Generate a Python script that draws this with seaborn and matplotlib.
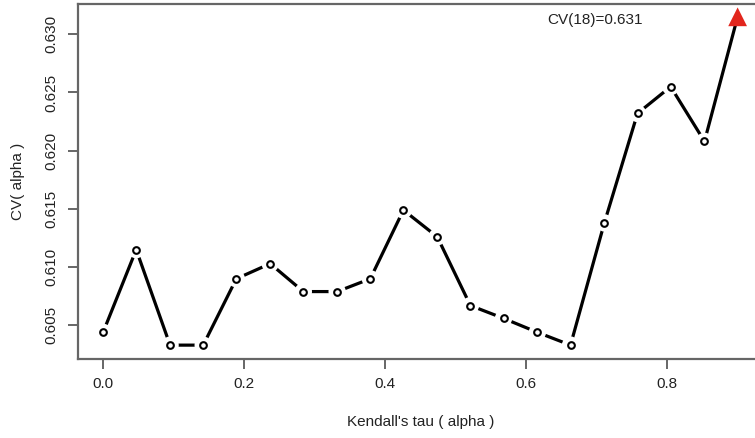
import matplotlib
matplotlib.use("Agg")
import matplotlib.pyplot as plt
import seaborn as sns
import numpy as np

# Data
tau = [0.0, 0.047, 0.095, 0.142, 0.189, 0.237, 0.284, 0.332, 0.379, 0.426,
       0.474, 0.521, 0.568, 0.616, 0.663, 0.711, 0.758, 0.805, 0.853, 0.9]
cv = [0.6044, 0.6115, 0.6033, 0.6033, 0.6090, 0.6103, 0.6079, 0.6079, 0.6090, 0.6149,
      0.6126, 0.6067, 0.6056, 0.6044, 0.6033, 0.6138, 0.6232, 0.6255, 0.6208, 0.6315]
x_ticks = [0.0, 0.2, 0.4, 0.6, 0.8]
x_tick_labels = ["0.0", "0.2", "0.4", "0.6", "0.8"]
y_ticks = [0.605, 0.610, 0.615, 0.620, 0.625, 0.630]
y_tick_labels = ["0.605", "0.610", "0.615", "0.620", "0.625", "0.630"]
annot_text = "CV(18)=0.631"
x_label = "Kendall's tau ( alpha )"
y_label = "CV( alpha )"

sns.set_style("white")
plt.rcParams['font.family'] = ['Liberation Sans', 'DejaVu Sans']

W, H = 755, 438
fig = plt.figure(figsize=(W / 100, H / 100), dpi=100)
left, right, bottom, top = 77.7, 763.0, 359.1, 4.0
ax = fig.add_axes([left / W, 1 - bottom / H, (right - left) / W, (bottom - top) / H])

sns.lineplot(x=tau, y=cv, color="black", linewidth=2.3, sort=False,
             estimator=None, ax=ax, zorder=2)
sns.scatterplot(x=tau, y=cv, s=12.5 ** 2, color="white", edgecolor="none",
                ax=ax, zorder=3)
sns.scatterplot(x=tau[:-1], y=cv[:-1], s=4.8 ** 2, facecolor="white",
                edgecolor="black", linewidth=1.5, ax=ax, zorder=4)
sns.scatterplot(x=[tau[-1]], y=[cv[-1]], marker="^", s=13.5 ** 2,
                color="#e2261d", edgecolor="none", ax=ax, zorder=5)

ax.text(0.698, 0.6312, annot_text, ha="center", va="center",
        fontsize=11, color="#222222")

ax.set_xlim(-0.036, 0.936)
ax.set_ylim(0.6021, 0.6326)
ax.set_xticks(x_ticks)
ax.set_xticklabels(x_tick_labels)
ax.set_yticks(y_ticks)
ax.set_yticklabels(y_tick_labels, rotation=90, va="center")

for sp in ax.spines.values():
    sp.set_visible(True)
    sp.set_color("#666666")
    sp.set_linewidth(1.6)

ax.tick_params(axis="both", direction="out", length=7, width=1.4,
               color="#666666", labelsize=11, labelcolor="#222222",
               left=True, bottom=True)
ax.tick_params(axis="y", pad=7)
ax.tick_params(axis="x", pad=6)

ax.set_xlabel(x_label, fontsize=11, color="#222222", labelpad=17)
ax.set_ylabel(y_label, fontsize=11, color="#222222", labelpad=14)

fig.savefig("out.png", dpi=100)
